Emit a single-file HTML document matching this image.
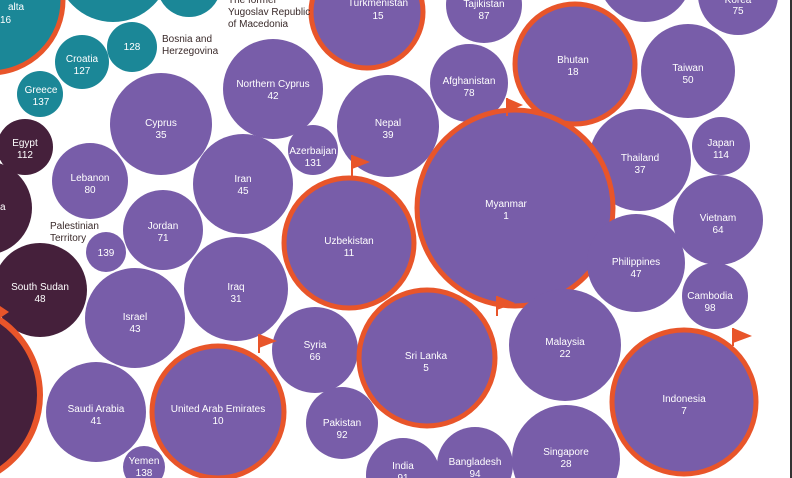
<!DOCTYPE html>
<html><head><meta charset="utf-8"><style>
html,body{margin:0;padding:0;background:#fff;width:792px;height:478px;overflow:hidden;}
svg{display:block;}
text{font-family:"Liberation Sans",sans-serif;font-size:10px;fill:#fff;text-anchor:middle;}
.d{fill:#3a2a2a;text-anchor:start;}
</style></head><body>
<svg width="792" height="478" viewBox="0 0 792 478" xmlns="http://www.w3.org/2000/svg">
<rect width="792" height="478" fill="#fff"/>
<g fill="#1b8797">
<circle cx="-10" cy="0" r="73" stroke="#e8552a" stroke-width="5"/>
<circle cx="113" cy="-35" r="57"/>
<circle cx="189" cy="-15" r="32"/>
<circle cx="82" cy="62" r="27"/>
<circle cx="132" cy="47" r="25"/>
<circle cx="40" cy="94" r="23"/>
</g>
<g fill="#45203b">
<circle cx="25" cy="147" r="28"/>
<circle cx="-15" cy="208" r="47"/>
<circle cx="40" cy="290" r="47"/>
<circle cx="-50" cy="395" r="90" stroke="#e8552a" stroke-width="6"/>
</g>
<g fill="#785da9">
<circle cx="367" cy="12" r="56" stroke="#e8552a" stroke-width="5"/>
<circle cx="484" cy="5" r="38"/>
<circle cx="645" cy="-25" r="47"/>
<circle cx="738" cy="-5" r="40"/>
<circle cx="575" cy="64" r="60" stroke="#e8552a" stroke-width="5"/>
<circle cx="688" cy="71" r="47"/>
<circle cx="469" cy="83" r="39"/>
<circle cx="273" cy="89" r="50"/>
<circle cx="161" cy="124" r="51"/>
<circle cx="388" cy="126" r="51"/>
<circle cx="313" cy="150" r="25"/>
<circle cx="90" cy="181" r="38"/>
<circle cx="243" cy="184" r="50"/>
<circle cx="640" cy="160" r="51"/>
<circle cx="721" cy="146" r="29"/>
<circle cx="515" cy="208" r="98" stroke="#e8552a" stroke-width="5"/>
<circle cx="349" cy="243" r="65" stroke="#e8552a" stroke-width="5"/>
<circle cx="163" cy="230" r="40"/>
<circle cx="106" cy="252" r="20"/>
<circle cx="718" cy="220" r="45"/>
<circle cx="636" cy="263" r="49"/>
<circle cx="715" cy="296" r="33"/>
<circle cx="236" cy="289" r="52"/>
<circle cx="135" cy="318" r="50"/>
<circle cx="315" cy="350" r="43"/>
<circle cx="427" cy="358" r="68" stroke="#e8552a" stroke-width="5"/>
<circle cx="565" cy="345" r="56"/>
<circle cx="684" cy="402" r="72" stroke="#e8552a" stroke-width="5"/>
<circle cx="218" cy="412" r="66" stroke="#e8552a" stroke-width="5"/>
<circle cx="96" cy="412" r="50"/>
<circle cx="144" cy="467" r="21"/>
<circle cx="342" cy="423" r="36"/>
<circle cx="403" cy="475" r="37"/>
<circle cx="475" cy="465" r="38"/>
<circle cx="566" cy="459" r="54"/>
</g>
<g fill="#e8552a" stroke="#e8552a" stroke-width="2">
<line x1="507" y1="98" x2="507" y2="116"/><polygon stroke="none" points="507,98 523,105 507,112"/>
<line x1="352" y1="155" x2="352" y2="178"/><polygon stroke="none" points="352,155 370,162 352,169"/>
<line x1="497" y1="296" x2="497" y2="316"/><polygon stroke="none" points="497,296 515,303 497,310"/>
<line x1="259" y1="334" x2="259" y2="353"/><polygon stroke="none" points="259,334 277,341 259,348"/>
<line x1="733" y1="328" x2="733" y2="346"/><polygon stroke="none" points="733,328 752,336 733,343"/>
<polygon stroke="none" points="0,306 9,312 0,318"/>
</g>
<rect x="790" y="0" width="2" height="478" fill="#333"/>
<text x="8" y="10" style="text-anchor:start">alta</text><text x="0" y="23" style="text-anchor:start">16</text>
<text x="82" y="62">Croatia</text><text x="82" y="74">127</text>
<text x="132" y="50">128</text>
<text x="41" y="93">Greece</text><text x="41" y="105">137</text>
<text class="d" x="162" y="42">Bosnia and</text><text class="d" x="162" y="54">Herzegovina</text>
<text class="d" x="228" y="3">The former</text><text class="d" x="228" y="15">Yugoslav Republic</text><text class="d" x="228" y="27">of Macedonia</text>
<text x="378" y="6">Turkmenistan</text><text x="378" y="19">15</text>
<text x="484" y="7">Tajikistan</text><text x="484" y="19">87</text>
<text x="738" y="3">Korea</text><text x="738" y="14">75</text>
<text x="573" y="63">Bhutan</text><text x="573" y="75">18</text>
<text x="688" y="71">Taiwan</text><text x="688" y="83">50</text>
<text x="469" y="84">Afghanistan</text><text x="469" y="96">78</text>
<text x="273" y="87">Northern Cyprus</text><text x="273" y="99">42</text>
<text x="161" y="126">Cyprus</text><text x="161" y="138">35</text>
<text x="388" y="126">Nepal</text><text x="388" y="138">39</text>
<text x="313" y="154">Azerbaijan</text><text x="313" y="166">131</text>
<text x="25" y="146">Egypt</text><text x="25" y="158">112</text>
<text x="0" y="210" style="text-anchor:start">a</text>
<text x="90" y="181">Lebanon</text><text x="90" y="193">80</text>
<text x="243" y="182">Iran</text><text x="243" y="194">45</text>
<text x="640" y="161">Thailand</text><text x="640" y="173">37</text>
<text x="721" y="146">Japan</text><text x="721" y="158">114</text>
<text x="506" y="207">Myanmar</text><text x="506" y="219">1</text>
<text x="349" y="244">Uzbekistan</text><text x="349" y="256">11</text>
<text class="d" x="50" y="229">Palestinian</text><text class="d" x="50" y="241">Territory</text>
<text x="106" y="256">139</text>
<text x="163" y="229">Jordan</text><text x="163" y="241">71</text>
<text x="718" y="221">Vietnam</text><text x="718" y="233">64</text>
<text x="636" y="265">Philippines</text><text x="636" y="277">47</text>
<text x="710" y="299">Cambodia</text><text x="710" y="311">98</text>
<text x="40" y="290">South Sudan</text><text x="40" y="302">48</text>
<text x="236" y="290">Iraq</text><text x="236" y="302">31</text>
<text x="135" y="320">Israel</text><text x="135" y="332">43</text>
<text x="315" y="348">Syria</text><text x="315" y="360">66</text>
<text x="426" y="359">Sri Lanka</text><text x="426" y="371">5</text>
<text x="565" y="345">Malaysia</text><text x="565" y="357">22</text>
<text x="684" y="402">Indonesia</text><text x="684" y="414">7</text>
<text x="96" y="412">Saudi Arabia</text><text x="96" y="424">41</text>
<text x="218" y="412">United Arab Emirates</text><text x="218" y="424">10</text>
<text x="342" y="426">Pakistan</text><text x="342" y="438">92</text>
<text x="144" y="464">Yemen</text><text x="144" y="476">138</text>
<text x="403" y="469">India</text><text x="403" y="481">91</text>
<text x="475" y="465">Bangladesh</text><text x="475" y="477">94</text>
<text x="566" y="455">Singapore</text><text x="566" y="467">28</text>
</svg>
</body></html>
